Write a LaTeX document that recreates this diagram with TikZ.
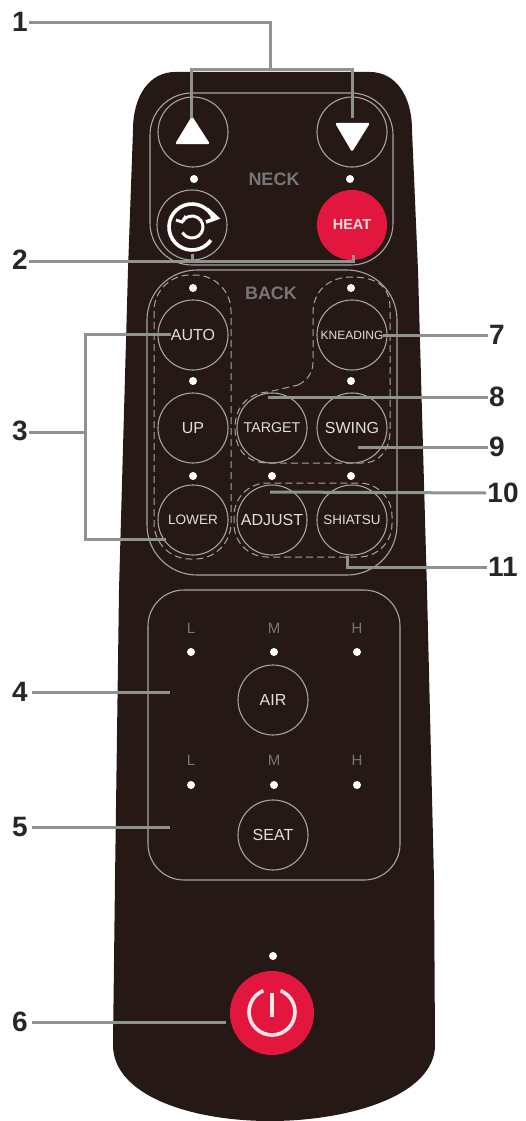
\documentclass[tikz,border=0pt]{standalone}
\usepackage{fontspec}
\setmainfont{Liberation Sans}
\usetikzlibrary{positioning}
\definecolor{mBody}{HTML}{261815}
\definecolor{mRed}{HTML}{E3173E}
\definecolor{mLine}{HTML}{8E9290}
\definecolor{mRim}{HTML}{A8A4A0}
\definecolor{mDim}{HTML}{77777A}
\newcommand{\fsz}[1]{\fontsize{#1}{#1}\selectfont}
\begin{document}
\begin{tikzpicture}[x=1pt, y=-1pt, thick,
      btn/.style={circle, draw=mRim, line width=1.1pt, minimum size=70pt, inner sep=0pt,
                  text=white!88!black, font=\fsz{16}},
      redbtn/.style={btn, fill=mRed, draw=none},
      led/.style={circle, fill=white, minimum size=8pt, inner sep=0pt},
      dim/.style={text=mDim, font=\fsz{18}\bfseries},
      rim/.style={draw=mRim, line width=1.1pt},
      dashrim/.style={draw=mRim, line width=1pt, dash pattern=on 7pt off 4pt},
      num/.style={font=\fsz{28}\bfseries, text=black!85, inner sep=1pt},
      callout/.style={draw=mLine, line width=3pt},
      icon/.style={draw=white, line width=3.6pt}]
    \useasboundingbox (0,0) rectangle (526,1121);
    \fill[mBody] (175,72) -- (370,72) .. controls (395,72) and (412,95) .. (412,130)
      -- (418,270) -- (427,590) -- (434,880) -- (435,1045)
      .. controls (435,1095) and (350,1121) .. (270,1121)
      .. controls (190,1121) and (113,1095) .. (113,1045)
      -- (115,880) -- (119,590) -- (128,270) -- (133,130)
      .. controls (133,95) and (150,72) .. (175,72) -- cycle;

    \draw[rim, rounded corners=42] (150,93) rectangle (393,265);
    \draw[rim, rounded corners=50] (147,270) rectangle (397,575);
    \draw[rim, rounded corners=36] (148,590) rectangle (400,880);

    \draw[dashrim, rounded corners=36] (154,275) rectangle (231,559);
    \draw[dashrim] (298,385) .. controls (308,380) and (313,372) .. (313,362) -- (313,313)
      .. controls (313,290) and (330,277) .. (351,277)
      .. controls (375,277) and (390,285) .. (390,308) -- (390,430)
      .. controls (390,450) and (380,463) .. (362,463) -- (268,463)
      .. controls (245,463) and (235,448) .. (235,428)
      .. controls (235,405) and (250,393) .. (268,392) -- cycle;
    \draw[dashrim, rounded corners=33] (234,483) rectangle (392,557);

    \node[btn] (up)   at (193,132) {};
    \node[btn] (down) at (352,132) {};
    \node[btn] (cyc)  at (192,225) {};
    \node[redbtn, font=\fsz{14.5}\bfseries] (heat) at (352,225) {HEAT};
    \node[btn] (auto)  at (193,335) {AUTO};
    \node[btn] (upb)   at (193,428) {UP};
    \node[btn, font=\fsz{13.6}] (lower) at (193,520) {LOWER};
    \node[btn, font=\fsz{12}] (knead) at (352,335) {KNEADING};
    \node[btn, font=\fsz{14.2}] (target) at (272,428) {TARGET};
    \node[btn] (swing) at (352,428) {SWING};
    \node[btn] (adjust) at (272,520) {ADJUST};
    \node[btn, font=\fsz{13.4}] (shiatsu) at (352,520) {SHIATSU};
    \node[btn] (air)  at (273,700) {AIR};
    \node[btn] (seat) at (273,835) {SEAT};
    \node[redbtn, minimum size=84pt] (power) at (272,1013) {};

    \fill[white, rounded corners=1.5pt] (192,116) -- (210,144) -- (175,144) -- cycle;
    \fill[white, rounded corners=1.5pt] (335,123) -- (370,123) -- (352,152) -- cycle;
    \draw[icon] (192,227) ++(-20:23) arc[start angle=-20, end angle=-325, radius=23];
    \draw[icon] (207,209) -- (217,218) -- (206,222);
    \draw[icon, line width=3pt] (192,227) ++(-150:11) arc[start angle=-150, end angle=150, radius=11];
    \draw[icon, line width=3pt] (176,220) -- (182,222) -- (186,216);
    \draw[draw=white!90!mRed, line width=3.6pt] (272,1012) ++(-68:23) arc[start angle=-68, end angle=248, radius=23];
    \draw[draw=white!90!mRed, line width=3.6pt] (272,993) -- (272,1017);

    \foreach \px/\py in {194/179, 350/179, 193/288, 351/288, 193/381, 351/381,
                         193/476, 272/476, 351/476, 191/652, 274/652, 357/652,
                         191/785, 274/785, 357/785, 273/956}
      \node[led] at (\px,\py) {};

    \node[dim] (neck) at (274,179) {NECK};
    \node[dim] (back) at (271,293) {BACK};
    \foreach \px/\txt in {191/L, 274/M, 357/H} {
      \node[dim, font=\fsz{15}] at (\px,628) {\txt};
      \node[dim, font=\fsz{15}] at (\px,760) {\txt};
    }

    \node[num] (n1)  at (20,22)   {1};
    \node[num] (n2)  at (20,260)  {2};
    \node[num] (n3)  at (20,431)  {3};
    \node[num] (n4)  at (20,692)  {4};
    \node[num] (n5)  at (20,827)  {5};
    \node[num] (n6)  at (20,1022) {6};
    \node[num] (n7)  at (497,335) {7};
    \node[num] (n8)  at (497,397) {8};
    \node[num] (n9)  at (497,447) {9};
    \node[num] (n10) at (503,493) {10};
    \node[num] (n11) at (503,567) {11};

    \coordinate (a1) at (191,118);
    \coordinate (a2) at (352,118);
    \draw[callout] (n1.east |- 0,23) -- (270,23) -- (270,70);
    \draw[callout] (a1) -- (191,70) -- (352,70) -- (a2);
    \draw[callout] (n2.east |- 0,261) -- (353,261) -- (353,255);
    \draw[callout] (192,261) -- (192,254);
    \coordinate (a3) at (171,334);
    \coordinate (b3) at (166,539);
    \draw[callout] (n3.east |- 0,432) -- (85,432);
    \draw[callout] (a3) -- (85,334) -- (85,539) -- (b3);
    \coordinate (a4) at (170,692);
    \coordinate (a5) at (170,827);
    \coordinate (a6) at (226,1022);
    \draw[callout] (n4) ++(12,0) -- (a4);
    \draw[callout] (n5) ++(12,0) -- (a5);
    \draw[callout] (n6) ++(12,0) -- (a6);
    \coordinate (a7) at (383,335);
    \coordinate (a8) at (268,397);
    \coordinate (a9) at (358,447);
    \coordinate (a10) at (270,492);
    \coordinate (a11) at (347,556);
    \draw[callout] (a7) -- (n7.west);
    \draw[callout] (a8) -- (n8.west);
    \draw[callout] (a9) -- (n9.west);
    \draw[callout] (a10) -- (n10.west);
    \draw[callout] (a11) -- (347,567) -- (n11.west);
  \end{tikzpicture}
\end{document}
